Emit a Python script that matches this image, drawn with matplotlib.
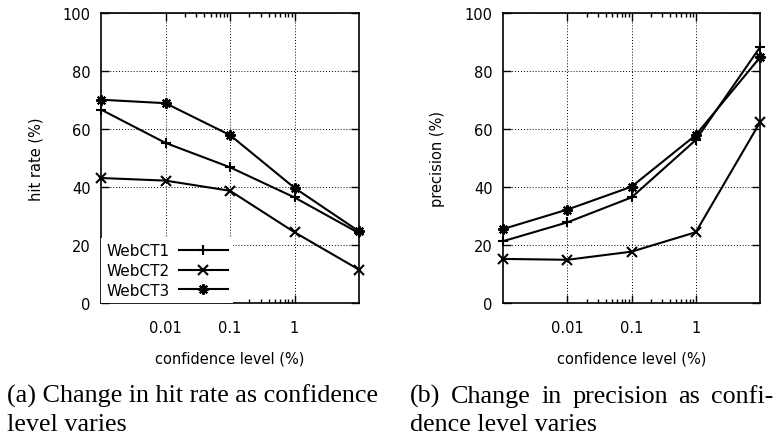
import matplotlib
matplotlib.use("Agg")
import matplotlib.pyplot as plt
from matplotlib.ticker import FixedLocator, NullFormatter

conf = [0.001, 0.01, 0.1, 1, 10]
tick_vals = [0.01, 0.1, 1]
tick_labels = ["0.01", "0.1", "1"]
series = ["WebCT1", "WebCT2", "WebCT3"]
hit_ct1 = [66.7, 55.2, 46.8, 36.4, 24.1]
hit_ct2 = [43.1, 42.2, 38.7, 24.4, 11.5]
hit_ct3 = [70.1, 68.9, 57.9, 39.7, 24.7]
prec_ct1 = [21.3, 27.8, 36.4, 56.2, 88.2]
prec_ct2 = [15.2, 14.9, 17.7, 24.4, 62.3]
prec_ct3 = [25.5, 32.2, 40.1, 57.9, 84.7]

markers = ["+", "x", (8, 2, 0)]
W, H = 783, 439
fig = plt.figure(figsize=(W / 100, H / 100), dpi=100)

def make_ax(left_px, right_px, data, ylabel, legend):
    ax = fig.add_axes([left_px / W, 1 - 304 / H, (right_px - left_px) / W, 290 / H])
    for name, vals, m in zip(series, data, markers):
        ax.plot(conf, vals, color="black", lw=1.5, marker=m, markersize=7.5,
                markeredgewidth=1.5, label=name, clip_on=False)
    ax.set_xscale("log")
    ax.set_xlim(0.001, 10)
    ax.set_ylim(0, 100)
    ax.xaxis.set_major_locator(FixedLocator(tick_vals))
    ax.set_xticklabels(tick_labels)
    minors = [k * 0.01 for k in range(2, 10)] + [k * 0.1 for k in range(2, 10)]
    ax.xaxis.set_minor_locator(FixedLocator(minors))
    ax.xaxis.set_minor_formatter(NullFormatter())
    ax.set_yticks([0, 20, 40, 60, 80, 100])
    ax.tick_params(which="both", direction="in", top=True, right=True,
                   labelsize=10.5, colors="black")
    ax.tick_params(which="major", length=6, width=1)
    ax.tick_params(which="minor", length=3, width=1)
    ax.tick_params(axis="x", pad=12.5)
    ax.tick_params(axis="y", pad=7.5)
    ax.grid(True, which="major", linestyle=(0, (1, 2)), color="black", lw=0.7)
    for s in ax.spines.values():
        s.set_linewidth(1.2)
    ax.set_xlabel("confidence level (%)", fontsize=10.5, labelpad=11)
    ax.set_ylabel(ylabel, fontsize=10.5, labelpad=14)
    if legend:
        lg = ax.legend(loc="lower left", markerfirst=False, fontsize=11,
                       handlelength=3.2, frameon=True, borderaxespad=0.0,
                       labelspacing=0.3, handletextpad=0.6, borderpad=0.35)
        lg.get_frame().set_edgecolor("none")
        lg.get_frame().set_facecolor("white")
        lg.get_frame().set_alpha(1)
        lg.get_frame().set_boxstyle("square", pad=0)
    return ax

make_ax(101, 359, [hit_ct1, hit_ct2, hit_ct3], "hit rate (%)", True)
make_ax(503, 760, [prec_ct1, prec_ct2, prec_ct3], "precision (%)", False)

# captions (fit font size so that the first line of (a) spans the measured width)
fig.canvas.draw()
r = fig.canvas.get_renderer()
base = 10.0
probe = fig.text(0, 0, "(a) Change in hit rate as confidence", family="Liberation Serif",
                 fontsize=base)
pw = probe.get_window_extent(r).width
probe.remove()
cap_size = base * (380 - 7) / pw
cap_font = dict(family="Liberation Serif", fontsize=cap_size, color="black", va="baseline")

fig.text(7 / W, 1 - 403 / H, "(a) Change in hit rate as confidence", **cap_font)
fig.text(7 / W, 1 - 431 / H, "level varies", **cap_font)

words = ["(b)", "Change", "in", "precision", "as", "confi-"]
txts = [fig.text(0, 1 - 403 / H, w, **cap_font) for w in words]
widths = [t.get_window_extent(r).width for t in txts]
x0, x1 = 410, 773
gap = (x1 - x0 - sum(widths)) / (len(words) - 1)
x = x0
for t, w in zip(txts, widths):
    t.set_x(x / W)
    x += w + gap
fig.text(410 / W, 1 - 431 / H, "dence level varies", **cap_font)

fig.savefig("out.png", dpi=100)
